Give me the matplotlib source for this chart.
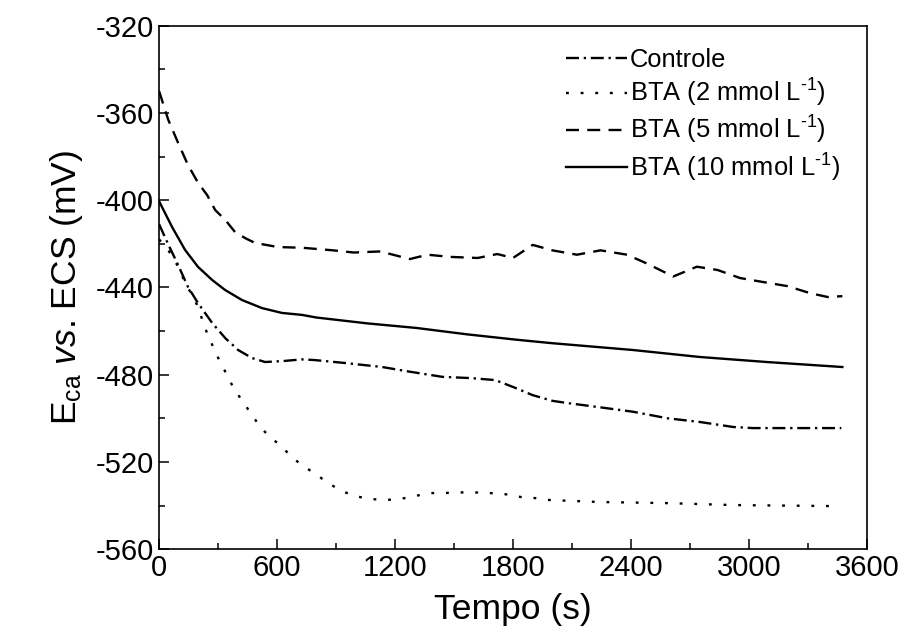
import matplotlib
matplotlib.use('Agg')
import matplotlib.pyplot as plt
from matplotlib.ticker import MultipleLocator

plt.rcParams['font.family'] = ['Liberation Sans', 'DejaVu Sans']
plt.rcParams['mathtext.fontset'] = 'custom'
plt.rcParams['mathtext.rm'] = 'Liberation Sans'
plt.rcParams['mathtext.it'] = 'Liberation Sans:italic'
plt.rcParams['axes.unicode_minus'] = False

# Controle
t_ctrl = [0, 45, 92, 147, 198, 270, 336, 402, 473, 539, 625, 727, 790, 950, 1135, 1265,
          1440, 1590, 1710, 1810, 1900, 2000, 2075, 2245, 2410, 2585, 2750, 2920, 3020,
          3260, 3470]
e_ctrl = [-411, -420, -428.8, -439.8, -447.2, -456.3, -463.2, -468.7, -472.4, -474.2,
          -473.8, -473, -473.3, -474.7, -476.5, -478.5, -481, -481.6, -482.5, -486, -489.4,
          -492, -493, -495, -497, -500, -501.7, -504, -504.5, -504.5, -504.5]

# BTA 2 mmol/L
t_bta2 = [0, 46, 92, 122, 158, 193, 244, 275, 310, 346, 376, 427, 473, 514, 564, 625,
          676, 742, 803, 859, 930, 997, 1073, 1149, 1225, 1302, 1368, 1444, 1520, 1607,
          1683, 1759, 1846, 1912, 1988, 2243, 2583, 2919, 3460]
e_bta2 = [-418, -422.8, -429.7, -435.7, -442, -448, -461, -467.3, -474.2, -480.2, -485.7,
          -492.6, -498.5, -504, -508.6, -513, -518, -522.4, -526, -529.7, -533.4, -535.7,
          -537, -537.5, -537, -535.7, -534.3, -534.3, -534, -534, -534.3, -534.8, -536.2,
          -536.6, -537.5, -538.4, -538.9, -539.8, -540.3]

# BTA 5 mmol/L
t_bta5 = [0, 46, 97, 147, 198, 244, 285, 336, 386, 440, 488, 605, 727, 885, 990, 1125,
          1275, 1365, 1480, 1620, 1720, 1800, 1900, 2000, 2125, 2245, 2380, 2480, 2615,
          2735, 2840, 2955, 3070, 3195, 3310, 3400, 3475]
e_bta5 = [-350, -363, -373.8, -383.9, -392, -397.6, -404.5, -409, -414.6, -417.5, -419.6,
          -421.5, -421.8, -423, -424, -423.5, -427, -425, -426, -426.5, -424.7, -426.5,
          -420.5, -423, -425, -423, -425, -429, -435, -430.5, -432, -435.7, -437.5, -439.4,
          -442.6, -444.4, -444]

# BTA 10 mmol/L
t_bta10 = [0, 66, 132, 198, 270, 336, 422, 524, 625, 727, 800, 1060, 1310, 1565, 1820,
           1990, 2410, 2750, 3090, 3475]
e_bta10 = [-400.5, -412.3, -422.8, -430.6, -436.6, -441.2, -445.8, -449.5, -451.7, -452.6,
           -453.8, -456.5, -458.6, -461.5, -464, -465.5, -468.7, -471.9, -474.2, -476.5]

labels = ['Controle', 'BTA (2 mmol L$^{\\mathrm{\u20101}}$)',
          'BTA (5 mmol L$^{\\mathrm{\u20101}}$)', 'BTA (10 mmol L$^{\\mathrm{\u20101}}$)']

fig = plt.figure(figsize=(9.04, 6.43), dpi=100)
ax = fig.add_axes([0.176, 0.146, 0.783, 0.814])

lw = 1.7
ax.plot(t_ctrl, e_ctrl, color='black', lw=lw, dashes=(5.5, 2, 1, 2), label=labels[0])
ax.plot(t_bta2, e_bta2, color='black', lw=lw, dashes=(1.2, 5), label=labels[1])
ax.plot(t_bta5, e_bta5, color='black', lw=lw, dashes=(5.5, 3.5), label=labels[2])
ax.plot(t_bta10, e_bta10, color='black', lw=lw, label=labels[3])

ax.set_xlim(0, 3600)
ax.set_ylim(-560, -320)
ax.xaxis.set_major_locator(MultipleLocator(600))
ax.xaxis.set_minor_locator(MultipleLocator(300))
ax.yaxis.set_major_locator(MultipleLocator(40))
ax.yaxis.set_minor_locator(MultipleLocator(20))
ax.tick_params(which='both', direction='in', top=False, right=False,
               labelsize=21, width=1.1)
ax.tick_params(which='major', length=7)
ax.tick_params(which='minor', length=4)
for s in ax.spines.values():
    s.set_linewidth(1.2)

ax.set_xlabel('Tempo (s)', fontsize=25.5, labelpad=8)
ax.set_ylabel('E$_{\\mathrm{ca}}$ $vs$. ECS (mV)', fontsize=25.5, labelpad=8)

ax.legend(loc='upper left', bbox_to_anchor=(0.575, 0.958), frameon=False,
          fontsize=18.4, handlelength=2.4, handletextpad=0.1, labelspacing=0.2,
          borderpad=0, borderaxespad=0)

fig.savefig('out.png', dpi=100)
